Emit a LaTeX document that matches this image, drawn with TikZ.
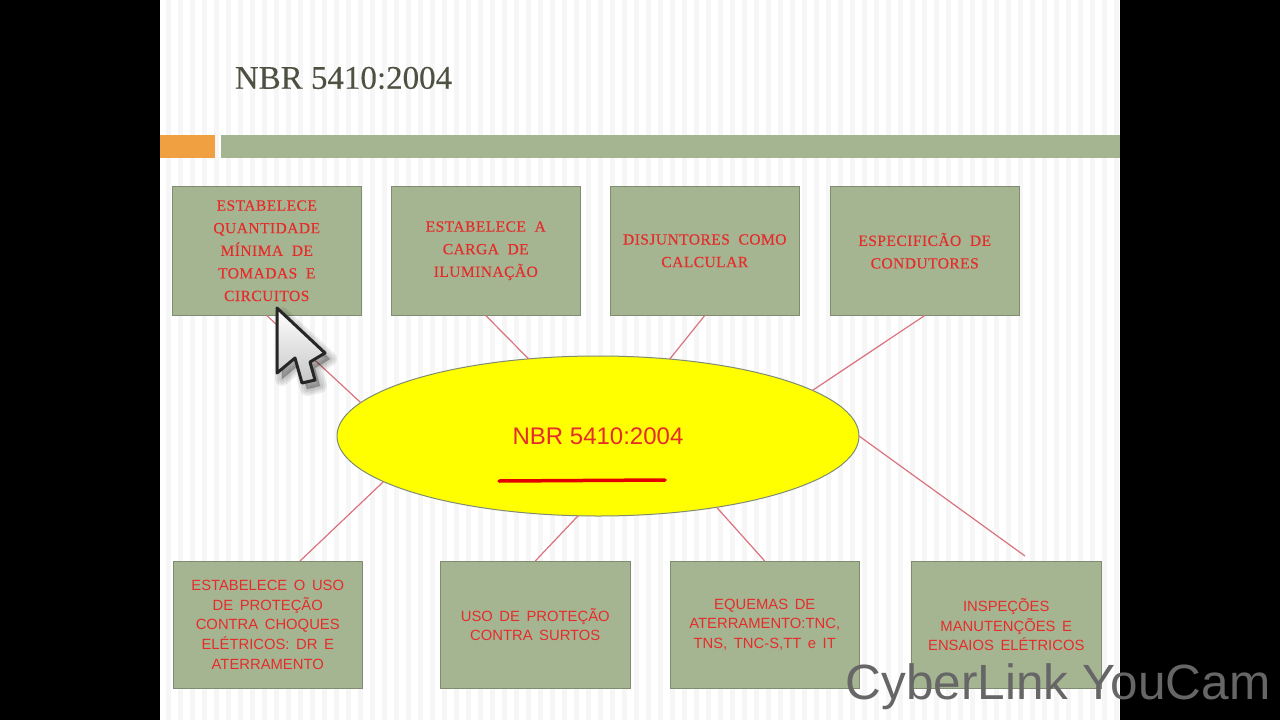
\documentclass[tikz,border=0pt]{standalone}
\usepackage{fontspec}
\usepackage{tikz}
\usetikzlibrary{shapes.geometric, positioning}
\setmainfont{Liberation Sans}
\newfontfamily\sansbox[WordSpace=1.6]{Liberation Sans}
\newfontfamily\serifbox[LetterSpace=3,WordSpace=2,FakeBold=0.25]{Liberation Serif}
\newfontfamily\serifhead[FakeBold=0.15]{Liberation Serif}
\definecolor{boxgreen}{HTML}{A5B592}
\definecolor{boxline}{HTML}{7F8C72}
\definecolor{redtext}{HTML}{E42D2B}
\definecolor{linkred}{HTML}{D9737F}
\definecolor{barorange}{HTML}{F0A041}
\definecolor{headgray}{HTML}{4C5141}
\definecolor{stripe}{HTML}{F6F6F6}
\definecolor{hubyellow}{RGB}{255,255,0}

\begin{document}
\begin{tikzpicture}[x=1pt,y=-1pt,
 top node/.style={rectangle,draw=boxline,fill=boxgreen,line width=1pt,outer sep=0pt,minimum width=189.5pt,
  minimum height=129.5pt,inner sep=0pt,align=center,text=redtext,
  font=\serifbox\fontsize{15.5}{22.6}\selectfont},
 low node/.style={top node,minimum height=127.5pt,font=\sansbox\fontsize{14.8}{19.6}\selectfont}]
  \useasboundingbox (0,0) rectangle (1280,720);
  \fill[black] (0,0) rectangle (1280,720);
  \fill[white] (160,0) rectangle (1120,720);

  % stripes of the slide
  \foreach \x in {166,178,...,1114} {
   \fill[stripe] (\x,0) rectangle (\x+5,720);}

  \node[text=headgray,font=\serifhead\fontsize{33}{36}\selectfont] (title) at (343.5,78) {NBR 5410:2004};
  \fill[barorange] (160,135) rectangle (215,158);
  \fill[boxgreen] (221,135) rectangle (1120,158);

  \node[top node] (q1) at (266.75,250.75) {ESTABELECE\\QUANTIDADE\\MÍNIMA DE\\TOMADAS E\\CIRCUITOS};
  \node[top node] (q2) [right=29.5pt of q1] {ESTABELECE A\\CARGA DE\\ILUMINAÇÃO};
  \node[top node] (q3) [right=29.5pt of q2] {DISJUNTORES COMO\\CALCULAR};
  \node[top node] (q4) [right=30.5pt of q3] {ESPECIFICÃO DE\\CONDUTORES};

  \node[low node] (s1) at (267.75,624.75) {ESTABELECE O USO\\DE PROTEÇÃO\\CONTRA CHOQUES\\ELÉTRICOS: DR E\\ATERRAMENTO};
  \node[low node] (s2) [right=78pt of s1] {USO DE PROTEÇÃO\\CONTRA SURTOS};
  \node[low node] (s3) [right=40pt of s2] {EQUEMAS DE\\ATERRAMENTO:TNC,\\TNS, TNC-S,TT e IT};
  \node[low node] (s4) [right=52pt of s3] {INSPEÇÕES\\MANUTENÇÕES E\\ENSAIOS ELÉTRICOS};

  \node[ellipse,draw=boxline,fill=hubyellow,line width=1pt,minimum width=522pt,minimum height=160pt,
   inner sep=0pt,outer sep=0pt,text=redtext,font=\fontsize{24}{28}\selectfont] (hub) at (598,436) {NBR 5410:2004};

  \coordinate (s1top) at (300,561);
  \coordinate (s4top) at (1025,556);

  \foreach \s/\t in {q1.south/hub.172.6, q2.south/hub.132, q3.south/hub.47, q4.south/hub.12,
   s1top/hub.192.7, s2.north/hub.256, s3.north/hub.329.5, s4top/hub.0} {
   \draw[linkred,line width=1.2pt] (\s) -- (\t);}

  % pen stroke under the title
  \draw[red!90!black,line width=3.5pt,line cap=round] (499,481) -- (665,480);

  % mouse pointer
  \foreach \w in {14,10,6,2} {
   \draw[black,opacity=.07,line width=\w pt,line join=round,fill=black] (282,314) -- (282,379) -- (300,364) -- (307,389)
    -- (320,386) -- (315,368) -- (330,359) -- cycle;}
  \draw[black!85,line width=3pt,line join=round,top color=white,bottom color=black!22] (277,308) -- (277,373) -- (295,358)
   -- (302,383) -- (315,380) -- (310,362) -- (325,353) -- cycle;

  \node[text=black!60,font=\fontsize{49.5}{52}\selectfont,anchor=east] (mark) at (1274,687) {CyberLink YouCam};
\end{tikzpicture}
\end{document}
